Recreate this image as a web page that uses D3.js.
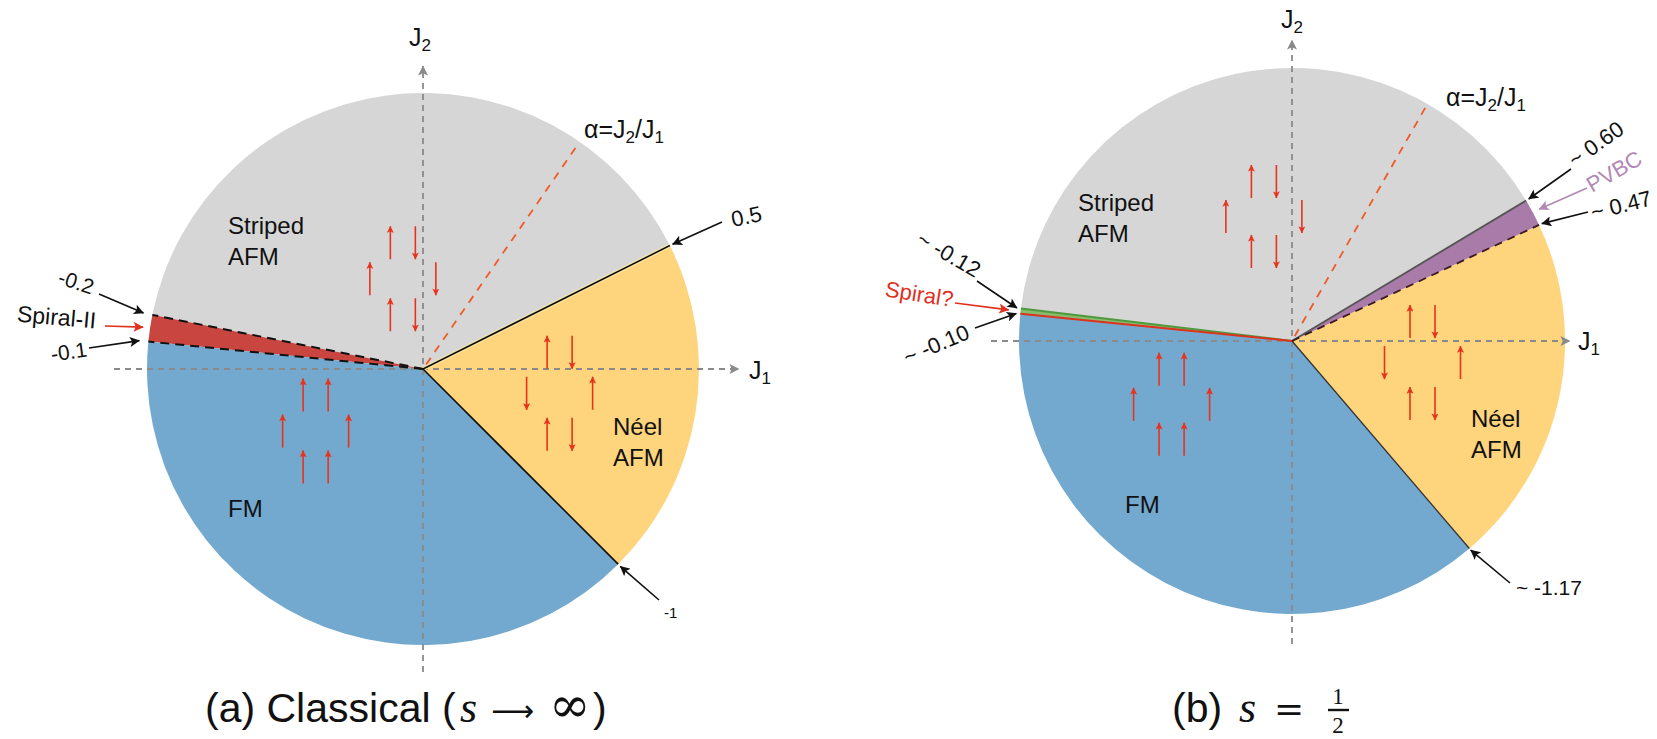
<!DOCTYPE html>
<html>
<head>
<meta charset="utf-8">
<script src="https://cdn.jsdelivr.net/npm/d3@7"></script>
<style>
  body { margin: 0; background: #fff; }
  svg { display: block; font-family: "Liberation Sans", Arial, Helvetica, sans-serif; }
</style>
</head>
<body>
<svg id="chart" width="1657" height="739"></svg>
<script>
// ---- Phase boundaries: alpha = J2/J1 and the sign of J1 on that ray ----
const classicalAlpha   = [0.5, -0.2, -0.1, -1];
const classicalJ1Sign  = [1, -1, -1, 1];
const classicalPhase   = ["Striped AFM", "Spiral-II", "FM", "Néel AFM"];
const classicalLabels  = ["0.5", "-0.2", "-0.1", "-1"];

const quantumAlpha     = [0.60, -0.12, -0.10, -1.17, 0.47];
const quantumJ1Sign    = [1, -1, -1, 1, 1];
const quantumPhase     = ["Striped AFM", "Spiral?", "FM", "Néel AFM", "PVBC"];
const quantumLabels    = ["~ 0.60", "~ -0.12", "~ -0.10", "~ -1.17", "~ 0.47"];

// illustrative alpha ray drawn in each panel
const alphaRay = [1.45, 1.75];

// spins on a six-site cluster (top pair, middle pair, bottom pair), +1 up / -1 down
const fmSpins      = [1, 1, 1, 1, 1, 1];
const stripedSpins = [1, -1, 1, -1, 1, -1];
const neelSpins    = [1, -1, -1, 1, 1, -1];

// ---- styling ----
const phaseColor = {
  "Striped AFM": "#d6d6d6",
  "Spiral-II": "#c8463f",
  "FM": "#74a9cf",
  "Néel AFM": "#fed47c",
  "PVBC": "#a97ba8",
  "Spiral?": "#86bb6c"
};
const spinRed = "#e8331c";
const axisGrey = "#8a8a8a";
const serif = "'Liberation Serif', 'DejaVu Serif', serif";

const svg = d3.select("#chart");
const defs = svg.append("defs");
function addMarker(id, color, len, wid) {
  defs.append("marker")
    .attr("id", id).attr("viewBox", "0 0 10 10")
    .attr("refX", 9.5).attr("refY", 5)
    .attr("markerUnits", "userSpaceOnUse")
    .attr("markerWidth", len).attr("markerHeight", wid)
    .attr("orient", "auto")
    .append("path").attr("d", "M0,0 L10,5 L0,10 L2.2,5 Z").attr("fill", color);
}
addMarker("headBlack", "#111", 11, 10);
addMarker("headRed", "#e0301e", 11, 10);
addMarker("headPurple", "#b387b3", 11, 10);
addMarker("headSpin", spinRed, 8, 7);
addMarker("headGrey", axisGrey, 11, 10);

const panels = [
  {
    cx: 423, cy: 369, r: 276,
    alpha: classicalAlpha, sign: classicalJ1Sign, phase: classicalPhase, labels: classicalLabels,
    ray: alphaRay[0], rayLen: 0.975,
    boundStyle: ["halo", "dash", "dash", "solid"],
    axisX: [114, 739], axisY: [672, 66],
    j1Label: [749, 379], j2Label: [409, 46],
    rayLabel: [584, 138],
    notes: [
      { b: 0, pad: 3, tail: [722, 222], text: [733, 227], rot: -12, anchor: "start", size: 22 },
      { b: 1, pad: 9, tail: [99, 294], text: [74, 289], rot: 18, anchor: "middle", size: 21 },
      { b: 2, pad: 9, tail: [89, 348], text: [70, 359], rot: -8, anchor: "middle", size: 21 },
      { b: 3, pad: 3, tail: [659, 600], text: [664, 618], rot: 0, anchor: "start", size: 15 }
    ],
    phaseNotes: [
      { p: 1, pad: 7, tail: [105, 326], text: [56, 325], rot: 5, anchor: "middle", size: 23, color: "#111", head: "headRed" }
    ],
    names: [
      { lines: ["Striped", "AFM"], x: 228, y: 234 },
      { lines: ["FM"], x: 228, y: 517 },
      { lines: ["Néel", "AFM"], x: 613, y: 435 }
    ],
    clusters: [
      { spins: stripedSpins, at: [-0.073, 0.327], row: 36 },
      { spins: fmSpins, at: [-0.389, -0.225], row: 36 },
      { spins: neelSpins, at: [0.495, -0.088], row: 41 }
    ],
    inner: 12.5, outer: 33
  },
  {
    cx: 1292, cy: 341, r: 273,
    alpha: quantumAlpha, sign: quantumJ1Sign, phase: quantumPhase, labels: quantumLabels,
    ray: alphaRay[1], rayLen: 0.99,
    boundStyle: ["grey", "green", "red", "thin", "dashDark"],
    axisX: [991, 1570], axisY: [644, 40],
    j1Label: [1578, 350], j2Label: [1281, 28],
    rayLabel: [1446, 106],
    notes: [
      { b: 0, pad: 3, tail: [1571, 169], text: [1575, 168], rot: -35, anchor: "start", size: 22 },
      { b: 1, pad: 4, tail: [977, 281], text: [975, 278], rot: 30, anchor: "end", size: 22 },
      { b: 2, pad: 4, tail: [975, 328], text: [971, 338], rot: -23, anchor: "end", size: 22 },
      { b: 3, pad: 2, tail: [1510, 583], text: [1516, 595], rot: 0, anchor: "start", size: 21 },
      { b: 4, pad: 3, tail: [1588, 212], text: [1593, 220], rot: -14, anchor: "start", size: 22 }
    ],
    phaseNotes: [
      { p: 4, pad: 7, tail: [1587, 188], text: [1592, 193], rot: -30, anchor: "start", size: 22, color: "#b387b3", head: "headPurple" },
      { p: 1, pad: 12, tail: [955, 303], text: [952, 307], rot: 9, anchor: "end", size: 22, color: "#e0301e", head: "headRed" }
    ],
    names: [
      { lines: ["Striped", "AFM"], x: 1078, y: 211 },
      { lines: ["FM"], x: 1125, y: 513 },
      { lines: ["Néel", "AFM"], x: 1471, y: 427 }
    ],
    clusters: [
      { spins: stripedSpins, at: [-0.103, 0.456], row: 35 },
      { spins: fmSpins, at: [-0.441, -0.232], row: 35 },
      { spins: neelSpins, at: [0.478, -0.079], row: 41 }
    ],
    inner: 12.5, outer: 38
  }
];

// angle (radians, counter-clockwise from +J1) of a boundary ray
const rayAngle = (a, s) => Math.atan2(s * a, s);

panels.forEach(P => {
  const g = svg.append("g");
  const x = d3.scaleLinear().domain([-1, 1]).range([P.cx - P.r, P.cx + P.r]);
  const y = d3.scaleLinear().domain([-1, 1]).range([P.cy + P.r, P.cy - P.r]);
  const rad = d3.scaleLinear().domain([0, 1]).range([0, P.r]);
  const pt = (theta, rr) => [x(rr * Math.cos(theta)), y(rr * Math.sin(theta))];

  // boundary angles, unwrapped so each phase runs counter-clockwise
  const th = P.alpha.map((a, i) => rayAngle(a, P.sign[i]));
  const n = th.length;
  const spans = th.map((t0, i) => {
    let t1 = th[(i + 1) % n];
    while (t1 <= t0) t1 += 2 * Math.PI;
    return [t0, t1];
  });

  const arc = d3.arc().innerRadius(0).outerRadius(rad(1));
  g.selectAll("path.phase").data(spans).join("path")
    .attr("class", "phase")
    .attr("transform", `translate(${x(0)},${y(0)})`)
    .attr("d", s => arc({ startAngle: Math.PI / 2 - s[1], endAngle: Math.PI / 2 - s[0] }))
    .attr("fill", (s, i) => phaseColor[P.phase[i]]);

  // axes
  g.append("line").attr("x1", P.axisX[0]).attr("x2", P.axisX[1])
    .attr("y1", y(0)).attr("y2", y(0))
    .attr("stroke", axisGrey).attr("stroke-width", 1.8).attr("stroke-dasharray", "6,5")
    .attr("marker-end", "url(#headGrey)");
  g.append("line").attr("x1", x(0)).attr("x2", x(0))
    .attr("y1", P.axisY[0]).attr("y2", P.axisY[1])
    .attr("stroke", axisGrey).attr("stroke-width", 1.8).attr("stroke-dasharray", "6,5")
    .attr("marker-end", "url(#headGrey)");

  const jLabel = (pos, sub) => {
    const t = g.append("text").attr("x", pos[0]).attr("y", pos[1])
      .attr("font-size", 25).attr("fill", "#111");
    t.append("tspan").text("J");
    t.append("tspan").attr("font-size", 17).attr("dy", 5).text(sub);
  };
  jLabel(P.j1Label, "1");
  jLabel(P.j2Label, "2");

  // alpha ray
  const ta = Math.atan(P.ray);
  const rs = pt(ta, 0.02), re = pt(ta, P.rayLen);
  g.append("line").attr("x1", rs[0]).attr("y1", rs[1]).attr("x2", re[0]).attr("y2", re[1])
    .attr("stroke", "#f05a28").attr("stroke-width", 1.8).attr("stroke-dasharray", "8,7");
  const al = g.append("text").attr("x", P.rayLabel[0]).attr("y", P.rayLabel[1])
    .attr("font-size", 25).attr("fill", "#111");
  al.append("tspan").text("α=J");
  al.append("tspan").attr("font-size", 17).attr("dy", 5).text("2");
  al.append("tspan").attr("dy", -5).text("/J");
  al.append("tspan").attr("font-size", 17).attr("dy", 5).text("1");

  // boundary rays
  th.forEach((t, i) => {
    const e = pt(t, 1), o = pt(t, 0);
    const line = () => g.append("line").attr("x1", o[0]).attr("y1", o[1]).attr("x2", e[0]).attr("y2", e[1]);
    const st = P.boundStyle[i];
    if (st === "halo") {
      line().attr("stroke", "#ffe9a8").attr("stroke-width", 4);
      line().attr("stroke", "#111").attr("stroke-width", 1.6);
    } else if (st === "dash") {
      line().attr("stroke", "#111").attr("stroke-width", 2).attr("stroke-dasharray", "9,6");
    } else if (st === "solid") {
      line().attr("stroke", "#111").attr("stroke-width", 1.6);
    } else if (st === "grey") {
      line().attr("stroke", "#555").attr("stroke-width", 1.8);
    } else if (st === "green") {
      line().attr("stroke", "#4f9a3c").attr("stroke-width", 2);
    } else if (st === "red") {
      line().attr("stroke", "#e0301e").attr("stroke-width", 2);
    } else if (st === "thin") {
      line().attr("stroke", "#333").attr("stroke-width", 1.3);
    } else if (st === "dashDark") {
      line().attr("stroke", "#3c1a24").attr("stroke-width", 1.8).attr("stroke-dasharray", "8,6");
    }
  });

  // boundary annotations
  P.notes.forEach(nt => {
    const tip = pt(th[nt.b], 1 + nt.pad / P.r);
    g.append("line").attr("x1", nt.tail[0]).attr("y1", nt.tail[1]).attr("x2", tip[0]).attr("y2", tip[1])
      .attr("stroke", "#111").attr("stroke-width", 1.6).attr("marker-end", "url(#headBlack)");
    g.append("text").attr("transform", `translate(${nt.text[0]},${nt.text[1]}) rotate(${nt.rot})`)
      .attr("text-anchor", nt.anchor).attr("font-size", nt.size).attr("fill", "#111")
      .text(P.labels[nt.b]);
  });
  P.phaseNotes.forEach(nt => {
    const s = spans[nt.p];
    const tip = pt((s[0] + s[1]) / 2, 1 + nt.pad / P.r);
    const headColor = nt.head === "headRed" ? "#e0301e" : nt.color;
    g.append("line").attr("x1", nt.tail[0]).attr("y1", nt.tail[1]).attr("x2", tip[0]).attr("y2", tip[1])
      .attr("stroke", headColor).attr("stroke-width", 1.6).attr("marker-end", `url(#${nt.head})`);
    g.append("text").attr("transform", `translate(${nt.text[0]},${nt.text[1]}) rotate(${nt.rot})`)
      .attr("text-anchor", nt.anchor).attr("font-size", nt.size).attr("fill", nt.color)
      .text(P.phase[nt.p].replace(" AFM", ""));
  });

  // phase names
  P.names.forEach(nm => {
    nm.lines.forEach((ln, k) => {
      g.append("text").attr("x", nm.x).attr("y", nm.y + k * 31)
        .attr("font-size", 24).attr("fill", "#111").text(ln);
    });
  });

  // spin clusters
  const colOff = [-P.inner, P.inner, -P.outer, P.outer, -P.inner, P.inner];
  const L = 33;
  P.clusters.forEach(c => {
    const cx = x(c.at[0]), cy = y(c.at[1]);
    const rowOff = [-c.row, -c.row, 0, 0, c.row, c.row];
    g.append("g").selectAll("line").data(c.spins).join("line")
      .attr("x1", (s, i) => cx + colOff[i]).attr("x2", (s, i) => cx + colOff[i])
      .attr("y1", (s, i) => cy + rowOff[i] + s * L / 2)
      .attr("y2", (s, i) => cy + rowOff[i] - s * L / 2)
      .attr("stroke", spinRed).attr("stroke-width", 1.6)
      .attr("marker-end", "url(#headSpin)");
  });
});

// ---- panel titles ----
const titleY = 722;
const titleA = svg.append("g").attr("fill", "#111");
titleA.append("text").attr("x", 205).attr("y", titleY).attr("font-size", 41)
  .text("(a) Classical (");
titleA.append("text").attr("x", 460).attr("y", titleY).attr("font-size", 44)
  .style("font-family", serif).style("font-style", "italic").text("s");
titleA.append("text").attr("x", 491).attr("y", titleY - 1).attr("font-size", 30)
  .style("font-family", "'DejaVu Sans', sans-serif").text("⟶");
titleA.append("text").attr("x", 549).attr("y", titleY).attr("font-size", 50)
  .style("font-family", "'DejaVu Serif', serif").text("∞");
titleA.append("text").attr("x", 593).attr("y", titleY).attr("font-size", 41)
  .text(")");

const titleB = svg.append("g").attr("fill", "#111");
titleB.append("text").attr("x", 1172).attr("y", titleY).attr("font-size", 41)
  .text("(b)");
titleB.append("text").attr("x", 1239).attr("y", titleY).attr("font-size", 44)
  .style("font-family", serif).style("font-style", "italic").text("s");
titleB.append("text").attr("x", 1274).attr("y", titleY - 1).attr("font-size", 36)
  .style("font-family", "'DejaVu Serif', serif").text("=");
titleB.append("text").attr("x", 1338).attr("y", 704).attr("text-anchor", "middle")
  .style("font-family", serif).attr("font-size", 23).text("1");
titleB.append("line").attr("x1", 1328).attr("x2", 1349).attr("y1", 710).attr("y2", 710)
  .attr("stroke", "#111").attr("stroke-width", 2.4);
titleB.append("text").attr("x", 1338).attr("y", 733).attr("text-anchor", "middle")
  .style("font-family", serif).attr("font-size", 23).text("2");
</script>
</body>
</html>
